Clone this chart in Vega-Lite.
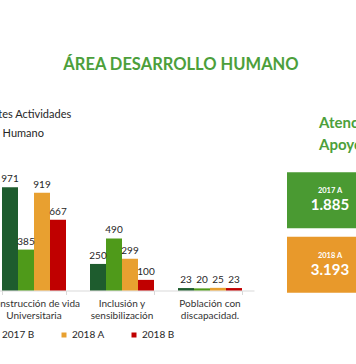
{
  "$schema": "https://vega.github.io/schema/vega-lite/v6.json",
  "autosize": {"type": "none"},
  "padding": {"left": 0, "top": 163, "right": 356, "bottom": 201},
  "background": "white",
  "title": {"text": "ÁREA DESARROLLO HUMANO", "anchor": "start", "align": "center", "dx": 181, "frame": "group", "font": "Lato", "fontSize": 16.5, "fontWeight": "bold", "color": "#4c9f3b", "offset": 36},
  "spacing": 33,
  "bounds": "flush",
  "config": {
    "view": {"stroke": null},
    "locale": {"number": {"decimal": ",", "thousands": ".", "grouping": [3], "currency": ["$", ""]}}
  },
  "resolve": {"scale": {"color": "independent", "x": "independent", "y": "independent"}, "legend": {"color": "independent"}},
  "hconcat": [
    {
      "width": 254,
      "height": 127.5,
      "title": {"text": ["Participantes Actividades", "Desarrollo Humano"], "anchor": "start", "frame": "group", "align": "left", "dx": -50, "font": "Lato", "fontSize": 11, "fontWeight": "normal", "color": "#262626", "lineHeight": 19, "offset": 24},
      "data": {"values": [
        {"categoria": "Construcción de vida Universitaria", "serie": "2017 A", "valor": 971},
        {"categoria": "Construcción de vida Universitaria", "serie": "2017 B", "valor": 385},
        {"categoria": "Construcción de vida Universitaria", "serie": "2018 A", "valor": 919},
        {"categoria": "Construcción de vida Universitaria", "serie": "2018 B", "valor": 667},
        {"categoria": "Inclusión y sensibilización", "serie": "2017 A", "valor": 250},
        {"categoria": "Inclusión y sensibilización", "serie": "2017 B", "valor": 490},
        {"categoria": "Inclusión y sensibilización", "serie": "2018 A", "valor": 299},
        {"categoria": "Inclusión y sensibilización", "serie": "2018 B", "valor": 100},
        {"categoria": "Población con discapacidad.", "serie": "2017 A", "valor": 23},
        {"categoria": "Población con discapacidad.", "serie": "2017 B", "valor": 20},
        {"categoria": "Población con discapacidad.", "serie": "2018 A", "valor": 25},
        {"categoria": "Población con discapacidad.", "serie": "2018 B", "valor": 23}
      ]},
      "encoding": {
        "x": {
          "field": "categoria", "type": "nominal", "sort": null,
          "scale": {"range": [-10, 254], "paddingInner": 0.2727, "paddingOuter": 0.1364}
        },
        "xOffset": {"field": "serie", "type": "nominal", "sort": ["2017 A", "2017 B", "2018 A", "2018 B"], "scale": {"paddingInner": 0, "paddingOuter": 0}},
        "y": {"field": "valor", "type": "quantitative", "scale": {"domain": [0, 1200], "nice": false}, "axis": null}
      },
      "resolve": {"axis": {"x": "independent"}},
      "layer": [
        {
          "mark": {"type": "bar"},
          "encoding": {
            "x": {
              "field": "categoria", "type": "nominal", "sort": null,
              "axis": {"title": null, "orient": "bottom", "labels": false, "domainColor": "#d9d9d9", "tickColor": "#d9d9d9", "tickSize": 4, "tickBand": "extent"}
            },
            "color": {
              "field": "serie", "type": "nominal",
              "scale": {"domain": ["2017 A", "2017 B", "2018 A", "2018 B"], "range": ["#1e5c2e", "#4f9a1a", "#e8a030", "#c00000"]},
              "legend": {
                "orient": "none", "legendX": -81, "legendY": 167, "direction": "horizontal", "title": null,
                "symbolType": "square", "symbolSize": 25, "symbolStrokeWidth": 0, "labelFont": "Lato", "labelFontSize": 10,
                "labelColor": "#262626", "labelOffset": 3, "columnPadding": 24, "padding": 0
              }
            }
          }
        },
        {
          "mark": {"type": "text", "dy": -8, "font": "Lato", "fontSize": 10, "color": "#262626"},
          "encoding": {
            "x": {
              "field": "categoria", "type": "nominal", "sort": null,
              "axis": {
                "title": null, "orient": "bottom", "domain": false, "ticks": false, "labelAngle": 0,
                "labelFont": "Lato", "labelFontSize": 10, "labelColor": "#333333",
                "labelPadding": 8, "labelLineHeight": 11.5, "labelLimit": 0,
                "labelExpr": "datum.label == 'Construcción de vida Universitaria' ? ['Construcción de vida', 'Universitaria'] : datum.label == 'Inclusión y sensibilización' ? ['Inclusión y', 'sensibilización'] : ['Población con', 'discapacidad.']"
              }
            },
            "text": {"field": "valor", "type": "quantitative", "format": "d"}
          }
        }
      ]
    },
    {
      "width": 86,
      "height": 139,
      "title": {"text": ["Atención", "Apoyo"], "anchor": "start", "frame": "group", "align": "left", "dx": 32, "font": "Lato", "fontSize": 15, "fontWeight": "bold", "color": "#4c9f3b", "lineHeight": 22, "offset": 10},
      "data": {"values": [
        {"periodo": "2017 A", "total": 1885},
        {"periodo": "2018 A", "total": 3193}
      ]},
      "encoding": {
        "y": {"field": "periodo", "type": "nominal", "sort": null, "scale": {"paddingInner": 0.13, "paddingOuter": 0.145}, "axis": null}
      },
      "layer": [
        {
          "mark": {"type": "rect"},
          "encoding": {"color": {"field": "periodo", "type": "nominal", "scale": {"domain": ["2017 A", "2018 A"], "range": ["#4a9a32", "#e8992b"]}, "legend": null}}
        },
        {
          "mark": {"type": "text", "dy": -9, "font": "Lato", "fontSize": 7.5, "fontWeight": "bold", "color": "#ffffff"},
          "encoding": {"text": {"field": "periodo", "type": "nominal"}}
        },
        {
          "mark": {"type": "text", "dy": 5, "font": "Lato", "fontSize": 15, "fontWeight": "bold", "color": "#ffffff"},
          "encoding": {"text": {"field": "total", "type": "quantitative", "format": ",d"}}
        }
      ]
    }
  ]
}
